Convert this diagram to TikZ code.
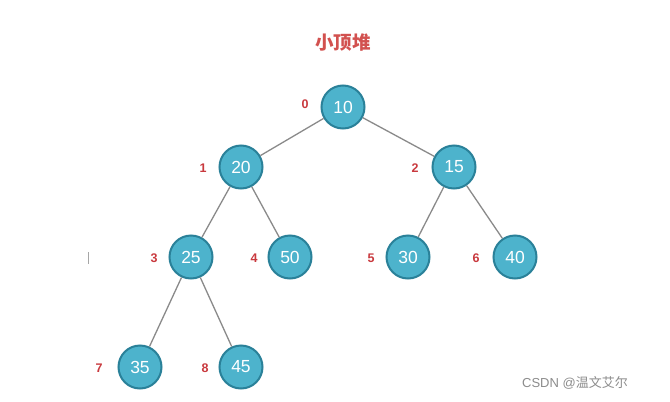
\documentclass[tikz,border=0pt]{standalone}
\usepackage{fontspec}
\setmainfont{Liberation Sans}
\newfontfamily\cjk{Noto Sans CJK SC}
\definecolor{nodefill}{HTML}{4DB3CC}
\definecolor{nodeedge}{HTML}{2A8199}
\definecolor{idxred}{HTML}{C9393E}
\definecolor{titlered}{HTML}{D2514F}
\definecolor{edgegray}{HTML}{8A8A8A}
\begin{document}
\begin{tikzpicture}[x=1pt,y=-1pt,
  heapnode/.style={circle,draw=nodeedge,line width=2pt,fill=nodefill,minimum size=43pt,inner sep=0pt,text=white,font=\fontsize{17.5}{17.5}\selectfont},
  idx/.style={text=idxred,font=\bfseries\fontsize{12.5}{12.5}\selectfont},
  edge/.style={draw=edgegray,line width=1.3pt}]
\useasboundingbox (0,0) rectangle (670,402);
\fill[white] (0,0) rectangle (670,402);
\node[text=titlered,font=\cjk\bfseries\fontsize{18.5}{18.5}\selectfont] (title) at (343,43) {小顶堆};
\node[heapnode] (n0) at (343,107) {10};
\node[heapnode] (n1) at (241,167) {20};
\node[heapnode] (n2) at (454,167) {15};
\node[heapnode] (n3) at (191,257) {25};
\node[heapnode] (n4) at (290,257) {50};
\node[heapnode] (n5) at (408,257) {30};
\node[heapnode] (n6) at (515,257) {40};
\node[heapnode] (n7) at (140,367) {35};
\node[heapnode] (n8) at (241,367) {45};
\node[idx] (i0) at (305,104) {0};
\node[idx] (i1) at (203,168) {1};
\node[idx] (i2) at (415,168) {2};
\node[idx] (i3) at (154,258) {3};
\node[idx] (i4) at (254,258) {4};
\node[idx] (i5) at (371,258) {5};
\node[idx] (i6) at (476,258) {6};
\node[idx] (i7) at (99,368) {7};
\node[idx] (i8) at (205,368) {8};
\path[edge] (n0) -- (n1);
\path[edge] (n0) -- (n2);
\path[edge] (n1) -- (n3);
\path[edge] (n1) -- (n4);
\path[edge] (n2) -- (n5);
\path[edge] (n2) -- (n6);
\path[edge] (n3) -- (n7);
\path[edge] (n3) -- (n8);
\coordinate (ma) at (88,252);
\coordinate (mb) at (88,264);
\draw[gray!70,line width=1pt] (ma) -- (mb);
\node[text=gray!90,font=\fontsize{13}{13}\selectfont] (wm) at (575,383) {CSDN @{\cjk 温文艾尔}};
\end{tikzpicture}
\end{document}
